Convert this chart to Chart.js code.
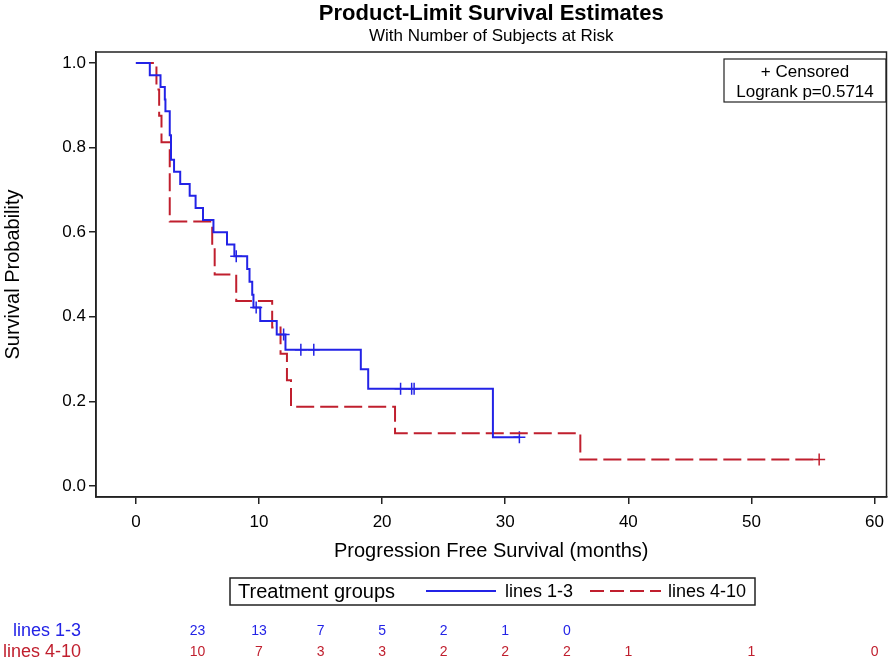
<!DOCTYPE html>
<html>
<head>
<meta charset="utf-8">
<script src="https://cdn.jsdelivr.net/npm/chart.js@4.4.1/dist/chart.umd.min.js"></script>
<style>
  html, body { margin: 0; padding: 0; background: #fff; }
  #wrap { width: 894px; height: 660px; }
</style>
</head>
<body>
<div id="wrap"><canvas id="km" width="894" height="660"></canvas></div>
<script>
// axis ticks
const xTicks = [0, 10, 20, 30, 40, 50, 60];
const yTicks = [0.0, 0.2, 0.4, 0.6, 0.8, 1.0];

const groups = ['lines 1-3', 'lines 4-10'];

// lines 1-3 : step points (time, survival)
const blueTime = [0, 1.13, 2.0, 2.35, 2.4, 2.75, 2.85, 3.1, 3.6, 4.37, 4.85, 5.45, 6.3, 7.4, 8.0, 9.04, 9.23, 9.45, 9.55, 10.1, 11.44, 12.15, 18.27, 18.87, 29.0, 31.15];
const blueSurv = [1.0, 0.971, 0.943, 0.914, 0.886, 0.829, 0.771, 0.743, 0.714, 0.686, 0.657, 0.629, 0.600, 0.571, 0.543, 0.513, 0.483, 0.452, 0.422, 0.390, 0.358, 0.322, 0.276, 0.230, 0.115, 0.115];
const blueCensTime = [8.15, 9.77, 12.0, 13.4, 14.45, 21.5, 22.4, 22.6, 31.15];
const blueCensSurv = [0.543, 0.422, 0.358, 0.322, 0.322, 0.230, 0.230, 0.230, 0.115];

// lines 4-10
const redTime = [0, 1.67, 1.89, 2.08, 2.75, 6.2, 6.4, 8.15, 11.07, 11.75, 12.27, 12.6, 21.05, 36.1, 55.5];
const redSurv = [1.0, 0.9375, 0.875, 0.8125, 0.625, 0.5625, 0.5, 0.4375, 0.375, 0.3125, 0.25, 0.1875, 0.125, 0.0625, 0.0625];
const redCensTime = [55.5];
const redCensSurv = [0.0625];

// number at risk table
const riskTimes = [5, 10, 15, 20, 25, 30, 35, 40, 50, 60];
const riskBlue = [23, 13, 7, 5, 2, 1, 0, null, null, null];
const riskRed = [10, 7, 3, 3, 2, 2, 2, 1, 1, 0];

const BLUE = '#2323e6';
const RED = '#c01f2e';
const FONT = "'Liberation Sans', Arial, sans-serif";

function pts(t, s) {
    return t.map((v, i) => ({ x: v, y: s[i] }));
}

// frame, titles, inset box, legend and at-risk rows
const extras = {
    id: 'extras',
    afterDraw: function (chart) {
        const ctx = chart.ctx;
        const a = chart.chartArea;
        const xs = chart.scales.x;
        ctx.save();

        ctx.strokeStyle = '#222';
        ctx.lineWidth = 1.5;
        ctx.strokeRect(a.left, a.top, a.right - a.left, a.bottom - a.top);

        const cx = (a.left + a.right) / 2;
        ctx.fillStyle = '#000';
        ctx.textAlign = 'center';
        ctx.textBaseline = 'middle';
        ctx.font = 'bold 22px ' + FONT;
        ctx.fillText('Product-Limit Survival Estimates', cx, 14);
        ctx.font = '17px ' + FONT;
        ctx.fillText('With Number of Subjects at Risk', cx, 36);

        // inset
        ctx.lineWidth = 1.2;
        ctx.strokeRect(724, 59, 162, 43);
        ctx.font = '17px ' + FONT;
        ctx.fillText('+ Censored', 805, 72);
        ctx.fillText('Logrank p=0.5714', 805, 92);

        // legend
        ctx.lineWidth = 1.5;
        ctx.strokeRect(230, 578, 525, 27);
        ctx.textAlign = 'left';
        ctx.font = '20px ' + FONT;
        ctx.fillText('Treatment groups', 238, 592);
        ctx.font = '18px ' + FONT;
        ctx.strokeStyle = BLUE;
        ctx.lineWidth = 2;
        ctx.beginPath(); ctx.moveTo(426, 591); ctx.lineTo(496, 591); ctx.stroke();
        ctx.fillText(groups[0], 505, 592);
        ctx.strokeStyle = RED;
        ctx.setLineDash([14, 6]);
        ctx.beginPath(); ctx.moveTo(590, 591); ctx.lineTo(661, 591); ctx.stroke();
        ctx.setLineDash([]);
        ctx.fillText(groups[1], 668, 592);

        // at risk
        ctx.textAlign = 'right';
        ctx.font = '18px ' + FONT;
        ctx.fillStyle = BLUE;
        ctx.fillText(groups[0], 81, 631);
        ctx.fillStyle = RED;
        ctx.fillText(groups[1], 81, 652);
        ctx.textAlign = 'center';
        ctx.font = '14px ' + FONT;
        riskTimes.forEach(function (t, i) {
            const px = xs.getPixelForValue(t);
            if (riskBlue[i] !== null) {
                ctx.fillStyle = BLUE;
                ctx.fillText(String(riskBlue[i]), px, 631);
            }
            if (riskRed[i] !== null) {
                ctx.fillStyle = RED;
                ctx.fillText(String(riskRed[i]), px, 652);
            }
        });
        ctx.restore();
    }
};

new Chart(document.getElementById('km'), {
    type: 'scatter',
    data: {
        datasets: [
            {
                label: groups[0],
                data: pts(blueTime, blueSurv),
                showLine: true,
                stepped: 'before',
                borderColor: BLUE,
                borderWidth: 2,
                pointRadius: 0
            },
            {
                label: groups[1],
                data: pts(redTime, redSurv),
                showLine: true,
                stepped: 'before',
                borderColor: RED,
                borderWidth: 2,
                borderDash: [18, 6],
                pointRadius: 0
            },
            {
                label: 'cens1',
                data: pts(blueCensTime, blueCensSurv),
                showLine: false,
                pointStyle: 'cross',
                pointRadius: 6,
                borderColor: BLUE,
                pointBorderWidth: 1.5
            },
            {
                label: 'cens2',
                data: pts(redCensTime, redCensSurv),
                showLine: false,
                pointStyle: 'cross',
                pointRadius: 6,
                borderColor: RED,
                pointBorderWidth: 1.5
            }
        ]
    },
    options: {
        responsive: false,
        animation: false,
        devicePixelRatio: 1,
        layout: { padding: { left: 0, top: 52, right: 5, bottom: 97 } },
        plugins: {
            legend: { display: false },
            title: { display: false },
            tooltip: { enabled: false }
        },
        scales: {
            x: {
                type: 'linear',
                min: -3.24,
                max: 60.97,
                afterFit: function (s) { s.height = 66; },
                afterBuildTicks: function (s) { s.ticks = xTicks.map(v => ({ value: v })); },
                grid: { drawOnChartArea: false, drawTicks: true, tickLength: 7, color: '#222', lineWidth: 1.5 },
                border: { display: true, color: '#222', width: 1.5 },
                ticks: { color: '#000', padding: 8, font: { family: FONT, size: 17 } },
                title: {
                    display: true,
                    text: 'Progression Free Survival (months)',
                    color: '#000',
                    padding: { top: 0, bottom: 0 },
                    font: { family: FONT, size: 20 }
                }
            },
            y: {
                min: -0.026,
                max: 1.026,
                afterFit: function (s) { s.width = 96; },
                afterBuildTicks: function (s) { s.ticks = yTicks.map(v => ({ value: v })); },
                grid: { drawOnChartArea: false, drawTicks: true, tickLength: 7, color: '#222', lineWidth: 1.5 },
                border: { display: true, color: '#222', width: 1.5 },
                ticks: {
                    color: '#000',
                    padding: 3,
                    font: { family: FONT, size: 17 },
                    callback: function (v) { return Number(v).toFixed(1); }
                },
                title: {
                    display: true,
                    text: 'Survival Probability',
                    color: '#000',
                    padding: { top: 1, bottom: 0 },
                    font: { family: FONT, size: 20 }
                }
            }
        }
    },
    plugins: [extras]
});
</script>
</body>
</html>
